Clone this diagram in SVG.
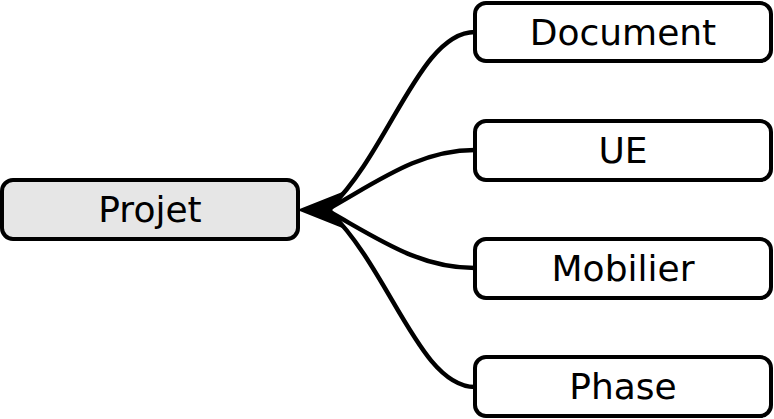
<svg xmlns="http://www.w3.org/2000/svg" width="774" height="419" viewBox="0 0 774 419">
<style>
.n rect{stroke:#000;stroke-width:4;fill:#fff}
.n text{font-family:"DejaVu Sans",sans-serif;font-size:36px;text-anchor:middle;fill:#000}
.c path{fill:none;stroke:#000;stroke-width:4.5}
</style>
<g class="c" id="connectors">
<path d="M475,32 C420,32 390,150 330,208"/>
<path d="M475,150 C420,150 380,180 330,208"/>
<path d="M475,268 C420,268 380,240 330,212"/>
<path d="M475,387 C420,387 390,270 330,212"/>
<path d="M300,210 L345,192 L331,210 L345,228 Z" style="fill:#000;stroke:#000;stroke-width:2"/>
</g>
<g class="n" id="projet"><rect x="2" y="180" width="296" height="59" rx="11" style="fill:#e6e6e6"/><text x="150" y="222">Projet</text></g>
<g class="n" id="document"><rect x="475" y="3" width="296" height="58" rx="11"/><text x="623" y="45">Document</text></g>
<g class="n" id="ue"><rect x="475" y="121" width="296" height="59" rx="11"/><text x="623" y="163">UE</text></g>
<g class="n" id="mobilier"><rect x="475" y="239" width="296" height="59" rx="11"/><text x="623" y="281">Mobilier</text></g>
<g class="n" id="phase"><rect x="475" y="357" width="296" height="59" rx="11"/><text x="623" y="399">Phase</text></g>
</svg>
